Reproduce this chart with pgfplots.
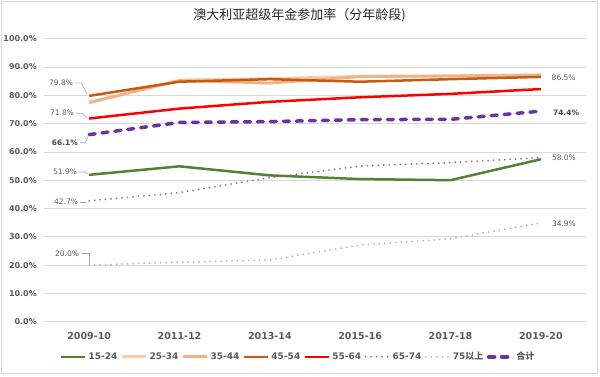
\documentclass[border=0pt]{standalone}
\usepackage{pgfplots}
\pgfplotsset{compat=1.18}
\usepackage{fontspec}
\setmainfont{DejaVu Sans}
\newfontfamily\cjk{Noto Sans CJK SC}
\definecolor{gridc}{HTML}{D9D9D9}
\definecolor{tickc}{HTML}{595959}
\definecolor{bordc}{HTML}{D9D9D9}
\definecolor{cA}{HTML}{548235}
\definecolor{cB}{HTML}{F8CBAD}
\definecolor{cC}{HTML}{F4B183}
\definecolor{cD}{HTML}{C55A11}
\definecolor{cE}{HTML}{FF0000}
\definecolor{cF}{HTML}{7F7F7F}
\definecolor{cG}{HTML}{B4B4B4}
\definecolor{cH}{HTML}{7030A0}
\begin{document}
\begin{tikzpicture}[x=1pt,y=1pt]
\useasboundingbox (0,0) rectangle (600,377);
\draw[color=bordc, line width=0.75pt] (1,4) rectangle (597,376);
\node[font=\cjk\fontsize{13}{15}\selectfont, text=black!85] at (299.5,361.3) {澳大利亚超级年金参加率（分年龄段)};
\begin{axis}[
  at={(44pt,55.3pt)}, anchor=south west,
  scale only axis, width=542pt, height=283pt,
  xmin=-0.5, xmax=5.5, ymin=0, ymax=100,
  clip=false,
  axis line style={draw=none},
  major tick length=0pt,
  ymajorgrids, grid style={color=gridc, line width=0.75pt},
  xtick={0,1,2,3,4,5},
  xticklabels={2009-10,2011-12,2013-14,2015-16,2017-18,2019-20},
  ytick={0,10,20,30,40,50,60,70,80,90,100},
  yticklabel={\pgfmathprintnumber[fixed,fixed zerofill,precision=1]{\tick}\%},
  /pgf/number format/assume math mode=true,
  yticklabel style={font=\bfseries\fontsize{8}{9}\selectfont, text=tickc, anchor=east, inner sep=0pt, xshift=-7pt},
  xticklabel style={font=\bfseries\fontsize{9.5}{11}\selectfont, text=tickc, anchor=north, inner sep=0pt, yshift=-11pt},
  legend style={draw=none, fill=none, at={(0.469,-0.124)}, anchor=center,
    font=\bfseries\fontsize{9}{11}\selectfont, text=tickc, inner sep=0pt,
    /tikz/every even column/.append style={column sep=1.5pt}},
  legend columns=8,
  legend image code/.code={\draw[#1] (0pt,0pt) -- (24pt,0pt);},
  every axis plot/.append style={line join=round},
]
\addplot[cA, line width=2.5pt] coordinates {(0,51.9) (1,54.9) (2,51.7) (3,50.4) (4,50.0) (5,57.4)};
\addlegendentry{15-24}
\addplot[cB, line width=2.8pt] coordinates {(0,77.3) (1,85.4) (2,85.9) (3,86.7) (4,86.9) (5,87.3)};
\addlegendentry{25-34}
\addplot[cC, line width=2.8pt] coordinates {(0,77.5) (1,85.2) (2,84.3) (3,86.6) (4,86.8) (5,87.0)};
\addlegendentry{35-44}
\addplot[cD, line width=2.5pt] coordinates {(0,79.8) (1,84.8) (2,85.7) (3,84.8) (4,85.7) (5,86.5)};
\addlegendentry{45-54}
\addplot[cE, line width=2.5pt] coordinates {(0,71.8) (1,75.3) (2,77.7) (3,79.3) (4,80.5) (5,82.2)};
\addlegendentry{55-64}
\addplot[cF, line width=2pt, line cap=round, dash pattern=on 0pt off 5.5pt] coordinates {(0,42.7) (1,45.6) (2,50.9) (3,55.0) (4,56.2) (5,58.0)};
\addlegendentry{65-74}
\addplot[cG, line width=2pt, line cap=round, dash pattern=on 0pt off 5.5pt] coordinates {(0,20.0) (1,21.0) (2,21.8) (3,27.1) (4,29.3) (5,34.9)};
\addlegendentry{75{\cjk 以上}}
\addplot[cH, line width=3.5pt, line cap=round, dash pattern=on 6pt off 7pt] coordinates {(0,66.1) (1,70.4) (2,70.7) (3,71.4) (4,71.5) (5,74.4)};
\addlegendentry{{\cjk 合计}}
% data labels
\tikzset{dl/.style={font=\fontsize{7.5}{9}\selectfont, text=tickc, inner sep=0pt},
         dlb/.style={font=\bfseries\fontsize{7.5}{9}\selectfont, text=tickc!80!black, inner sep=0pt},
         ld/.style={draw=black!35, line width=0.6pt}}
\node[dl, anchor=east] at (axis cs:0,79.8) [xshift=-16pt, yshift=13pt] {79.8\%};
\draw[ld] (axis cs:0,79.8) ++(-14pt,13pt) -- ++(6pt,0pt) -- ++(6pt,-11pt);
\node[dl, anchor=east] at (axis cs:0,71.8) [xshift=-15pt, yshift=5.3pt] {71.8\%};
\draw[ld] (axis cs:0,71.8) ++(-13pt,5.3pt) -- ++(6pt,0pt) -- ++(5pt,-4.5pt);
\node[dlb, anchor=east] at (axis cs:0,66.1) [xshift=-11pt, yshift=-7.8pt] {66.1\%};
\draw[ld] (axis cs:0,66.1) ++(-9pt,-7.8pt) -- ++(5pt,0pt) -- ++(3pt,6pt);
\node[dl, anchor=east] at (axis cs:0,51.9) [xshift=-12pt, yshift=2.8pt] {51.9\%};
\draw[ld] (axis cs:0,51.9) ++(-10pt,2.8pt) -- ++(6pt,0pt) -- ++(3pt,-2.3pt);
\node[dl, anchor=east] at (axis cs:0,42.7) [xshift=-11pt, yshift=-1pt] {42.7\%};
\draw[ld] (axis cs:0,42.7) ++(-9pt,-1pt) -- ++(7pt,0pt);
\node[dl, anchor=east] at (axis cs:0,20.0) [xshift=-10pt, yshift=11.7pt] {20.0\%};
\draw[ld] (axis cs:0,20.0) ++(-8pt,11.7pt) -- ++(8pt,0pt) -- ++(0pt,-10.5pt);
\node[dl, anchor=west] at (axis cs:5,86.5) [xshift=10.7pt, yshift=-0.7pt] {86.5\%};
\node[dlb, anchor=west] at (axis cs:5,74.4) [xshift=12pt, yshift=-1.4pt] {74.4\%};
\node[dl, anchor=west] at (axis cs:5,58.0) [xshift=11pt, yshift=0pt] {58.0\%};
\node[dl, anchor=west] at (axis cs:5,34.9) [xshift=11pt, yshift=-1pt] {34.9\%};
\end{axis}
\end{tikzpicture}
\end{document}
